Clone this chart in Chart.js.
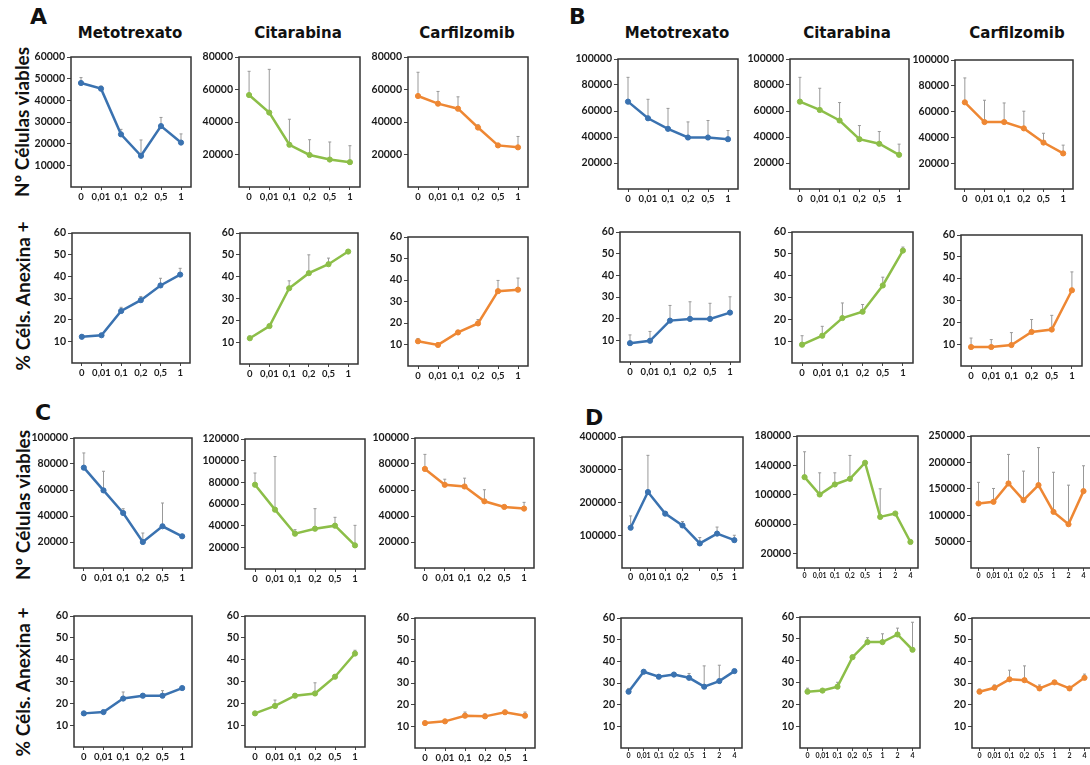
<!DOCTYPE html>
<html>
<head>
<meta charset="utf-8">
<script src="https://cdn.jsdelivr.net/npm/chart.js@4.4.1/dist/chart.umd.min.js"></script>
<style>
  html, body { margin: 0; padding: 0; background: #fff; }
  body { width: 1090px; height: 765px; position: relative; overflow: hidden; }
  canvas { position: absolute; }
  .txt { position: absolute; white-space: nowrap; color: #111; line-height: 1; }
  .letter { font: bold 22px 'DejaVu Sans'; }
  .title { font: bold 15px 'DejaVu Sans'; transform: translateX(-50%); }
  .rowlab { font: bold 19px Lato; transform: translate(-50%, -50%) rotate(-90deg); }
</style>
</head>
<body>
<div class="txt letter" style="left:30px;top:4px">A</div>
<div class="txt letter" style="left:569px;top:4px">B</div>
<div class="txt letter" style="left:35px;top:400px">C</div>
<div class="txt letter" style="left:585px;top:405px">D</div>

<div class="txt title" style="left:130px;top:24px">Metotrexato</div>
<div class="txt title" style="left:298px;top:24px">Citarabina</div>
<div class="txt title" style="left:467px;top:24px">Carfilzomib</div>
<div class="txt title" style="left:677px;top:24px">Metotrexato</div>
<div class="txt title" style="left:847px;top:24px">Citarabina</div>
<div class="txt title" style="left:1017px;top:24px">Carfilzomib</div>

<div class="txt rowlab" style="left:21px;top:122px">Nº Células viables</div>
<div class="txt rowlab" style="left:22px;top:296px">% Céls. Anexina +</div>
<div class="txt rowlab" style="left:22px;top:505px">Nº Células viables</div>
<div class="txt rowlab" style="left:22px;top:682px">% Céls. Anexina +</div>

<script>
// dose categories (x axis)
const dose6 = ['0', '0,01', '0,1', '0,2', '0,5', '1'];
const dose7 = ['0', '0,01', '0,1', '0,2', '', '0,5', '1'];
const dose8 = ['0', '0,01', '0,1', '0,2', '0,5', '1', '2', '4'];

// y axis ticks
const ticks60k = [10000, 20000, 30000, 40000, 50000, 60000];
const ticks80k = [20000, 40000, 60000, 80000];
const ticks100k = [20000, 40000, 60000, 80000, 100000];
const ticks120k = [20000, 40000, 60000, 80000, 100000, 120000];
const ticks400k = [100000, 200000, 300000, 400000];
const ticks180k = [20000, 60000, 100000, 140000, 180000];
const ticks180kText = ['20000', '600000', '100000', '140000', '180000'];
const ticks250k = [50000, 100000, 150000, 200000, 250000];
const ticksPct = [10, 20, 30, 40, 50, 60];

// A
const aMetViable = [48000, 45400, 24300, 14400, 28100, 20500];
const aMetViableErr = [2500, 1200, 2300, 7300, 4000, 4000];
const aCitViable = [56600, 45800, 26000, 19700, 16900, 15300];
const aCitViableErr = [14600, 26600, 15700, 9400, 10800, 10100];
const aCarViable = [56000, 51300, 48200, 36600, 25600, 24400];
const aCarViableErr = [14600, 7500, 7300, 1700, 500, 6700];
const aMetAnx = [12.1, 12.8, 24.0, 29.0, 35.8, 40.8];
const aMetAnxErr = [1, 0.5, 1.7, 1.7, 3.3, 2.9];
const aCitAnx = [11.8, 17.4, 34.7, 41.6, 45.7, 51.5];
const aCitAnxErr = [1, 0.3, 3.4, 8.4, 2.8, 0.8];
const aCarAnx = [11.5, 9.8, 15.6, 19.8, 34.8, 35.5];
const aCarAnxErr = [1.3, 0.3, 1, 1.8, 5, 5.4];

// B
const bMetViable = [67200, 54400, 46300, 39600, 39600, 38300];
const bMetViableErr = [18700, 14600, 15700, 12000, 13100, 6700];
const bCitViable = [67200, 60800, 52700, 38300, 34800, 26300];
const bCitViableErr = [18700, 16700, 13800, 10500, 9400, 8200];
const bCarViable = [67200, 51900, 51900, 47000, 36000, 27600];
const bCarViableErr = [18900, 16900, 14800, 13300, 7200, 6400];
const bMetAnx = [8.7, 9.8, 19.1, 19.9, 19.9, 22.8];
const bMetAnxErr = [3.8, 4.3, 7, 7.9, 7.2, 7.3];
const bCitAnx = [8.4, 12.5, 20.6, 23.5, 35.5, 51.5];
const bCitAnxErr = [4.1, 4.3, 6.9, 3.3, 3.8, 1.6];
const bCarAnx = [8.7, 8.7, 9.6, 15.6, 16.7, 34.7];
const bCarAnxErr = [4.1, 3.4, 5.7, 5.7, 6.5, 8.4];

// C
const cMetViable = [77200, 59700, 42300, 20000, 32100, 24400];
const cMetViableErr = [11300, 14700, 3300, 6900, 17900, 600];
const cCitViable = [77800, 54800, 32600, 37200, 40000, 21800];
const cCitViableErr = [10800, 49000, 3700, 18500, 7700, 18500];
const cCarViable = [76200, 64000, 62700, 51300, 47000, 45700];
const cCarViableErr = [11200, 4300, 6400, 8900, 1000, 4800];
const cMetAnx = [15.4, 16.0, 22.2, 23.5, 23.5, 27.0];
const cMetAnxErr = [0.6, 0.7, 3, 0.5, 2.3, 0.4];
const cCitAnx = [15.4, 18.8, 23.5, 24.5, 32.2, 42.8];
const cCitAnxErr = [0.8, 2.7, 0.6, 4.9, 0.7, 1.5];
const cCarAnx = [11.5, 12.3, 14.9, 14.6, 16.5, 14.9];
const cCarAnxErr = [0.8, 0.8, 1.7, 1.1, 0.7, 1.7];

// D
const dMetViable = [123000, 232000, 166000, 130000, 75000, 105000, 85000];
const dMetViableErr = [36000, 112000, 6000, 12000, 18000, 20000, 15000];
const dCitViable = [123900, 100200, 113900, 121600, 143500, 69700, 74300, 35500];
const dCitViableErr = [34600, 29600, 15900, 31900, 0, 38300, 0, 0];
const dCarViable = [122200, 125300, 160100, 128500, 157000, 106300, 82900, 145600];
const dCarViableErr = [40000, 25300, 55000, 55000, 71000, 75000, 74000, 48000];
const dMetAnx = [26.0, 35.2, 32.9, 33.9, 32.4, 28.3, 30.9, 35.5];
const dMetAnxErr = [1.5, 1, 0.7, 0.5, 2, 9.6, 7.3, 0.4];
const dCitAnx = [25.8, 26.3, 28.1, 41.6, 48.5, 48.5, 52.0, 45.0];
const dCitAnxErr = [1.6, 0.7, 2, 0.8, 2, 3.8, 2.9, 12.6];
const dCarAnx = [26.0, 27.8, 31.7, 31.3, 27.5, 30.3, 27.5, 32.4];
const dCarAnxErr = [1.2, 1.3, 4.2, 6.6, 1.6, 0.6, 0.3, 1.7];

const BLUE = '#3a72b0';
const GREEN = '#8cbe48';
const ORANGE = '#ee8733';

const AXIS_W = 46;
const PAD_TOP = 10;
const PAD_RIGHT = 8;
const AXIS_H = 18;

// frame round the plot area
const framePlugin = {
    id: 'frame',
    afterDraw(chart) {
        const { ctx, chartArea: a } = chart;
        ctx.save();
        ctx.strokeStyle = '#333';
        ctx.lineWidth = 1.5;
        ctx.strokeRect(a.left, a.top, a.right - a.left, a.bottom - a.top);
        ctx.restore();
    },
};

// upper error bars only, drawn under the line
const errorBarPlugin = {
    id: 'errorBars',
    beforeDatasetsDraw(chart) {
        const { ctx } = chart;
        const yScale = chart.scales.y;
        chart.data.datasets.forEach((ds, di) => {
            const meta = chart.getDatasetMeta(di);
            (ds.errors || []).forEach((err, i) => {
                const pt = meta.data[i];
                if (!pt || !err) return;
                const y0 = yScale.getPixelForValue(ds.data[i]);
                const y1 = yScale.getPixelForValue(ds.data[i] + err);
                ctx.save();
                ctx.strokeStyle = '#999';
                ctx.lineWidth = 1;
                ctx.beginPath();
                ctx.moveTo(pt.x, y0);
                ctx.lineTo(pt.x, y1);
                ctx.moveTo(pt.x - 1.5, y1);
                ctx.lineTo(pt.x + 1.5, y1);
                ctx.stroke();
                ctx.restore();
            });
        });
    },
};

function makeChart(box, labels, values, errors, color, yTicks, yText, xFontSize) {
    const canvas = document.createElement('canvas');
    const w = box.w + AXIS_W + PAD_RIGHT;
    const h = box.h + PAD_TOP + AXIS_H;
    canvas.width = w;
    canvas.height = h;
    canvas.style.left = (box.x - AXIS_W) + 'px';
    canvas.style.top = (box.y - PAD_TOP) + 'px';
    canvas.style.width = w + 'px';
    canvas.style.height = h + 'px';
    document.body.appendChild(canvas);

    new Chart(canvas, {
        type: 'line',
        data: {
            labels: labels,
            datasets: [
                {
                    data: values,
                    errors: errors,
                    borderColor: color,
                    backgroundColor: color,
                    borderWidth: 2.5,
                    pointRadius: 2.6,
                    pointBorderWidth: 1,
                    tension: 0,
                    clip: false,
                },
            ],
        },
        options: {
            responsive: false,
            animation: false,
            layout: {
                padding: { top: PAD_TOP, right: PAD_RIGHT, left: 0, bottom: 0 },
            },
            plugins: {
                legend: { display: false },
                tooltip: { enabled: false },
            },
            scales: {
                x: {
                    type: 'category',
                    offset: true,
                    afterFit: (scale) => { scale.height = AXIS_H; },
                    border: { display: false },
                    grid: {
                        drawOnChartArea: false,
                        drawTicks: true,
                        tickLength: 3,
                        color: '#444',
                    },
                    ticks: {
                        autoSkip: false,
                        maxRotation: 0,
                        minRotation: 0,
                        padding: 1,
                        color: '#1a1a1a',
                        font: { family: 'Lato', weight: 'bold', size: xFontSize },
                    },
                },
                y: {
                    min: 0,
                    max: yTicks[yTicks.length - 1],
                    afterFit: (scale) => { scale.width = AXIS_W; },
                    afterBuildTicks: (scale) => {
                        scale.ticks = yTicks.map((v) => ({ value: v }));
                    },
                    border: { display: false },
                    grid: {
                        drawOnChartArea: false,
                        drawTicks: true,
                        tickLength: 4,
                        color: '#444',
                    },
                    ticks: {
                        padding: 2,
                        color: '#1a1a1a',
                        font: { family: 'Lato', weight: 'bold', size: 10.5 },
                        callback: (value, index) => (yText ? yText[index] : String(value)),
                    },
                },
            },
        },
        plugins: [framePlugin, errorBarPlugin],
    });
}

// panel A
makeChart({ x: 71, y: 57, w: 120, h: 130 }, dose6, aMetViable, aMetViableErr, BLUE, ticks60k, null, 9.5);
makeChart({ x: 239, y: 57, w: 121, h: 130 }, dose6, aCitViable, aCitViableErr, GREEN, ticks80k, null, 9.5);
makeChart({ x: 408, y: 57, w: 120, h: 130 }, dose6, aCarViable, aCarViableErr, ORANGE, ticks80k, null, 9.5);
makeChart({ x: 72, y: 233, w: 118, h: 130 }, dose6, aMetAnx, aMetAnxErr, BLUE, ticksPct, null, 9.5);
makeChart({ x: 240, y: 233, w: 118, h: 131 }, dose6, aCitAnx, aCitAnxErr, GREEN, ticksPct, null, 9.5);
makeChart({ x: 408, y: 237, w: 120, h: 129 }, dose6, aCarAnx, aCarAnxErr, ORANGE, ticksPct, null, 9.5);

// panel B
makeChart({ x: 618, y: 59, w: 120, h: 130 }, dose6, bMetViable, bMetViableErr, BLUE, ticks100k, null, 9.5);
makeChart({ x: 790, y: 59, w: 119, h: 130 }, dose6, bCitViable, bCitViableErr, GREEN, ticks100k, null, 9.5);
makeChart({ x: 955, y: 60, w: 118, h: 129 }, dose6, bCarViable, bCarViableErr, ORANGE, ticks100k, null, 9.5);
makeChart({ x: 620, y: 232, w: 120, h: 130 }, dose6, bMetAnx, bMetAnxErr, BLUE, ticksPct, null, 9.5);
makeChart({ x: 792, y: 232, w: 121, h: 131 }, dose6, bCitAnx, bCitAnxErr, GREEN, ticksPct, null, 9.5);
makeChart({ x: 961, y: 235, w: 121, h: 131 }, dose6, bCarAnx, bCarAnxErr, ORANGE, ticksPct, null, 9.5);

// panel C
makeChart({ x: 74, y: 438, w: 118, h: 130 }, dose6, cMetViable, cMetViableErr, BLUE, ticks100k, null, 9.5);
makeChart({ x: 245, y: 439, w: 120, h: 130 }, dose6, cCitViable, cCitViableErr, GREEN, ticks120k, null, 9.5);
makeChart({ x: 415, y: 438, w: 119, h: 130 }, dose6, cCarViable, cCarViableErr, ORANGE, ticks100k, null, 9.5);
makeChart({ x: 74, y: 616, w: 118, h: 131 }, dose6, cMetAnx, cMetAnxErr, BLUE, ticksPct, null, 9.5);
makeChart({ x: 245, y: 616, w: 120, h: 131 }, dose6, cCitAnx, cCitAnxErr, GREEN, ticksPct, null, 9.5);
makeChart({ x: 415, y: 618, w: 120, h: 130 }, dose6, cCarAnx, cCarAnxErr, ORANGE, ticksPct, null, 9.5);

// panel D
makeChart({ x: 622, y: 437, w: 121, h: 131 }, dose7, dMetViable, dMetViableErr, BLUE, ticks400k, null, 9);
makeChart({ x: 797, y: 436, w: 121, h: 132 }, dose8, dCitViable, dCitViableErr, GREEN, ticks180k, ticks180kText, 7);
makeChart({ x: 971, y: 436, w: 120, h: 132 }, dose8, dCarViable, dCarViableErr, ORANGE, ticks250k, null, 7);
makeChart({ x: 621, y: 618, w: 121, h: 130 }, dose8, dMetAnx, dMetAnxErr, BLUE, ticksPct, null, 7);
makeChart({ x: 800, y: 617, w: 120, h: 131 }, dose8, dCitAnx, dCitAnxErr, GREEN, ticksPct, null, 7);
makeChart({ x: 972, y: 618, w: 120, h: 130 }, dose8, dCarAnx, dCarAnxErr, ORANGE, ticksPct, null, 7);
</script>
</body>
</html>
